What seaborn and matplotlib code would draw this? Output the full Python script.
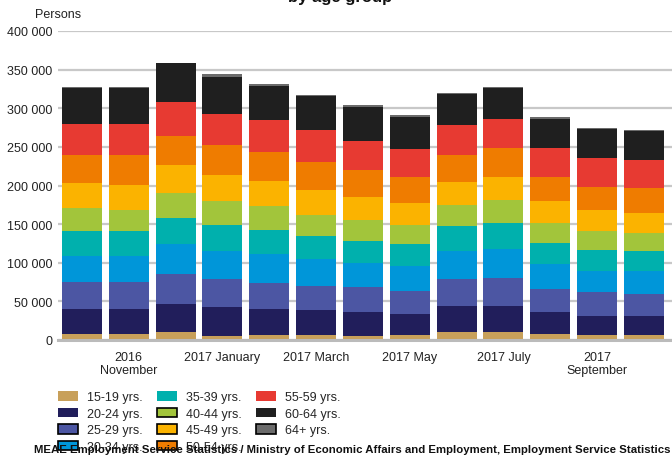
import matplotlib
matplotlib.use("Agg")
import matplotlib.pyplot as plt
import seaborn as sns
import numpy as np
import pandas as pd
from matplotlib.patches import Patch
from matplotlib import font_manager

# ---------------- data ----------------
months = ["2016-10", "2016-11", "2016-12", "2017-01", "2017-02", "2017-03", "2017-04",
          "2017-05", "2017-06", "2017-07", "2017-08", "2017-09", "2017-10"]
tick_months = ["2016-11", "2017-01", "2017-03", "2017-05", "2017-07", "2017-09"]
tick_labels = ["2016\nNovember", "2017 January", "2017 March", "2017 May", "2017 July", "2017\nSeptember"]

age_groups = ["15-19 yrs.", "20-24 yrs.", "25-29 yrs.", "30-34 yrs.", "35-39 yrs.", "40-44 yrs.",
              "45-49 yrs.", "50-54 yrs.", "55-59 yrs.", "60-64 yrs.", "64+ yrs."]
colors = ["#C8A05A", "#211E5B", "#4C56A3", "#0096D9", "#00B0AD", "#A2C53B",
          "#FBB300", "#EF7C00", "#E73A32", "#1F1F1F", "#6B6B6B"]

a15_19 = [7400, 7400, 10400, 4800, 6100, 6100, 4800, 6100, 10400, 10400, 7400, 6100, 6100]
a20_24 = [32400, 32400, 36400, 37600, 33700, 32400, 31100, 27200, 33300, 33300, 28500, 24600, 24600]
a25_29 = [35100, 35100, 38500, 36400, 33800, 31200, 32500, 29900, 35100, 36400, 29900, 31200, 28600]
a30_34 = [34200, 34200, 38900, 36300, 37700, 35100, 31200, 32500, 36300, 37600, 32500, 27300, 29900]
a35_39 = [32000, 32000, 33800, 33800, 31100, 29800, 28500, 28500, 32500, 33800, 27200, 27300, 25900]
a40_44 = [29900, 27700, 32500, 31200, 31200, 27300, 27300, 24700, 27300, 29900, 26000, 24600, 23400]
a45_49 = [32500, 32100, 36300, 33800, 32500, 32500, 29900, 28600, 29900, 29900, 28600, 27300, 26000]
a50_54 = [36300, 38900, 37700, 38900, 37600, 36300, 35000, 33800, 35000, 37600, 31200, 29900, 32500]
a55_59 = [40300, 40300, 44200, 40300, 41600, 41600, 37700, 36300, 39000, 37700, 37600, 37600, 36300]
a60_64 = [46300, 46300, 49300, 48000, 44100, 44100, 44200, 41600, 40200, 40200, 37700, 37700, 37700]
a64p = [1300, 1300, 900, 2600, 2600, 1300, 2600, 2600, 1300, 1300, 2600, 1300, 1300]

series = [a15_19, a20_24, a25_29, a30_34, a35_39, a40_44, a45_49, a50_54, a55_59, a60_64, a64p]
edged = ["25-29 yrs.", "30-34 yrs.", "40-44 yrs.", "45-49 yrs.", "50-54 yrs.", "64+ yrs."]

footer = ("MEAE Employment Service Statistics / Ministry of Economic Affairs and Employment, "
          "Employment Service Statistics")
title = "Unemployed jobseekers\nby age group"

# ---------------- style ----------------
sns.set_style("white")
plt.rcParams["font.family"] = ["Liberation Sans", "DejaVu Sans"]
plt.rcParams["font.size"] = 9

W, H = 672, 456
fig = plt.figure(figsize=(W / 100, H / 100), dpi=100)
ax = fig.add_axes([58 / W, (H - 341) / H, (W - 58) / W, (341 - 32) / H])

df = pd.DataFrame({"month": months})
for name, vals in zip(age_groups, series):
    df[name] = vals
cum = df[age_groups].cumsum(axis=1)
cum["month"] = df["month"]

# draw cumulative totals from the top group down, so lower groups overlay
for name, col in reversed(list(zip(age_groups, colors))):
    sns.barplot(data=cum, x="month", y=name, order=months,
                color=col, saturation=1, width=0.855, ax=ax, zorder=3, linewidth=0)

ax.set_ylim(0, 400000)
ax.set_xlim(-0.51, 12.6)
yt = np.arange(0, 400001, 50000)
ax.set_yticks(yt)
ax.set_yticklabels([f"{v:,}".replace(",", " ") for v in yt])
ax.yaxis.grid(True, color="#C8C8C8", linewidth=1.6, zorder=0)
ax.set_axisbelow(True)
ax.set_xticks([months.index(m) for m in tick_months])
ax.set_xticklabels(tick_labels, linespacing=1.15)
ax.tick_params(axis="both", length=0, labelsize=9, colors="#222222")
ax.tick_params(axis="y", pad=4)
ax.tick_params(axis="x", pad=8)
ax.set_xlabel("")
ax.set_ylabel("")
for s in ["top", "right", "left"]:
    ax.spines[s].set_visible(False)
ax.spines["bottom"].set_color("#BBBBBB")
ax.spines["bottom"].set_linewidth(2.2)
ax.spines["bottom"].set_zorder(4)

fig.text(35 / W, 1 - 15 / H, "Persons", ha="left", va="center", fontsize=9, color="#222222")
fig.text(340 / W, 1 - 2 / H, title, ha="center", va="baseline", fontsize=12, fontweight="bold",
         color="#111111", multialignment="center")

handles = []
for name, col in zip(age_groups, colors):
    if name in edged:
        handles.append(Patch(facecolor=col, edgecolor="black", linewidth=1.2))
    else:
        handles.append(Patch(facecolor=col, edgecolor="none"))
leg = fig.legend(handles, age_groups, ncol=3, loc="upper left",
                 bbox_to_anchor=(58 / W, 1 - 392 / H), frameon=False, fontsize=9,
                 handlelength=1.6, handleheight=0.8, handletextpad=0.75,
                 columnspacing=1.1, labelspacing=0.36, borderpad=0, borderaxespad=0)

names = {f.name for f in font_manager.fontManager.ttflist}
ffam = "Liberation Sans Narrow" if "Liberation Sans Narrow" in names else "Liberation Sans"
ft = fig.text(670 / W, 1 - 450 / H, footer, ha="right", va="center", fontsize=9,
              fontweight="bold", family=ffam, color="#111111", zorder=10)
fig.canvas.draw()
bb = ft.get_window_extent()
target = 633.0
ft.set_fontsize(9 * target / bb.width)

fig.savefig("out.png", dpi=100)
